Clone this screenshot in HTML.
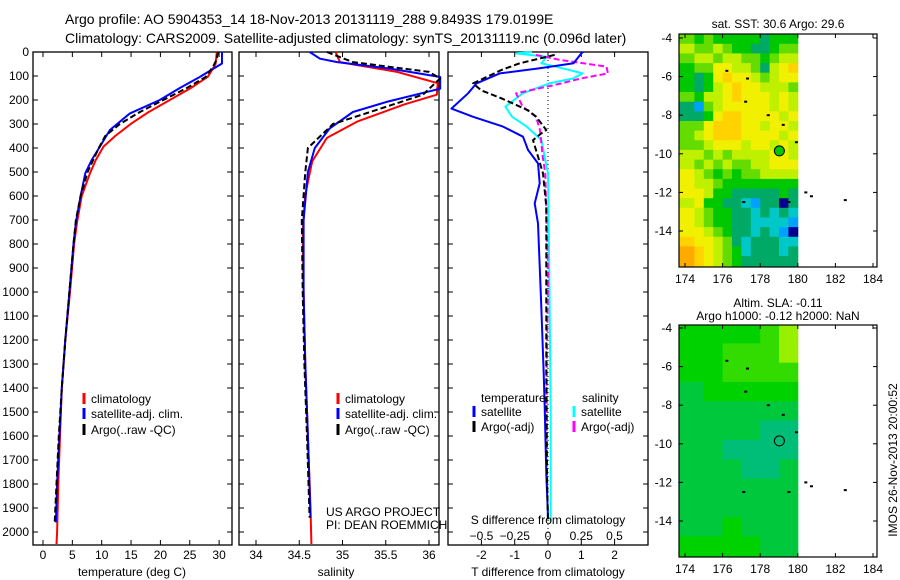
<!DOCTYPE html>
<html><head><meta charset="utf-8">
<style>
body{margin:0;background:#fff;}
svg{display:block;font-family:"Liberation Sans",sans-serif;}
text{fill:#000;}
</style></head>
<body>
<svg id="fig" width="900" height="580" viewBox="0 0 900 580">
<text x="65" y="24" font-size="14">Argo profile: AO 5904353_14 18-Nov-2013 20131119_288 9.8493S 179.0199E</text>
<text x="65" y="43" font-size="14">Climatology: CARS2009. Satellite-adjusted climatology: synTS_20131119.nc (0.096d later)</text>
<g id="g"></g>
</svg>
<script>
// ---- data ----
const depthTicks=[0,100,200,300,400,500,600,700,800,900,1000,1100,1200,1300,1400,1500,1600,1700,1800,1900,2000];
const tempTicks=[0,5,10,15,20,25,30];
const salTicks=[34,34.5,35,35.5,36];
const tdiffTicks=[-2,-1,0,1,2];
const sdiffTicks=[-0.5,-0.25,0,0.25,0.5];
const tempClimDepth=[0,50,103,150,200,250,297,350,394,450,505,600,711,800,1000,1200,1400,1600,1800,2000,2050];
const tempClim=[29.6,29.4,28.1,25.2,21.6,18.0,15.1,12.3,10.3,9.0,8.0,6.6,5.8,5.3,4.6,3.8,3.2,2.9,2.6,2.4,2.3];
const tempSatDepth=[0,48,104,150,200,256,325,394,450,505,600,711,800,1000,1200,1400,1600,1800,1960];
const tempSat=[30.5,30.5,26.7,23.3,19.9,14.8,11.4,9.7,8.3,7.2,6.4,5.6,5.2,4.5,3.8,3.2,2.8,2.4,2.2];
const tempArgoDepth=[0,30,60,104,150,200,250,300,350,400,500,600,700,800,1000,1200,1400,1600,1800,1960];
const tempArgo=[29.8,29.6,29.0,27.7,24.5,20.5,16.5,13.1,10.6,9.5,7.6,6.4,5.6,5.2,4.5,3.8,3.2,2.7,2.3,2.0];
const salClimDepth=[0,42,83,130,178,220,290,358,456,594,750,1000,1300,1600,1900,2050];
const salClim=[34.92,34.97,35.63,36.1,36.09,35.7,35.17,34.82,34.65,34.57,34.54,34.55,34.57,34.6,34.63,34.64];
const salSatDepth=[0,28,42,69,104,153,208,250,319,400,500,700,1000,1300,1600,1940];
const salSat=[34.62,34.74,34.94,35.55,36.13,36.13,35.51,35.12,34.85,34.68,34.6,34.55,34.55,34.57,34.6,34.63];
const salArgoDepth=[0,42,83,110,178,250,300,400,500,700,1000,1300,1600,1940];
const salArgo=[34.82,35.12,36.0,36.13,35.93,35.32,34.89,34.6,34.57,34.53,34.54,34.56,34.59,34.62];
const dTSatDepth=[0,6,47,68,89,131,172,236,270,311,353,408,464,547,631,714,1061,1339,1478,1756,1936];
const dTSat=[1.05,1.0,0.77,-0.25,-1.45,-2.15,-2.4,-2.9,-2.25,-1.35,-0.75,-0.6,-0.3,-0.25,-0.4,-0.3,-0.2,-0.13,-0.1,-0.05,0];
const dTArgoDepth=[12,47,75,131,160,193,243,270,298,325,339,367,436,506,644,922,1339,1756,1960];
const dTArgo=[0.2,-0.85,-1.4,-2.25,-2.0,-1.4,-0.6,-0.35,-0.2,-0.05,-0.2,-0.45,-0.3,-0.15,-0.05,-0.05,-0.05,-0.03,0];
const dSSatDepth=[0,6,20,47,68,89,110,131,172,228,270,311,367,506,922,1500,1960];
const dSSat=[-0.12,-0.24,-0.01,-0.05,0.11,0.26,0.19,0.01,-0.19,-0.32,-0.27,-0.16,-0.05,0,0.01,0.02,0.02];
const dSArgoDepth=[12,33,61,89,110,131,151,172,228,270,325,436,506,922,1339,1800];
const dSArgo=[-0.09,0.09,0.44,0.45,0.25,0.1,-0.06,-0.24,-0.19,-0.09,-0.06,-0.04,-0.02,0,-0.01,-0.01];
const lonTicks=[174,176,178,180,182,184];
const latTicks=[-4,-6,-8,-10,-12,-14];
const sstGrid=[
"545444443444","655654433455","566566554566","455776653678","434787765677","434678776665",
"546678777676","315677777676","334788777767","557888776776","567888777767","556777677676",
"665656666776","656565566777","765454556666","766544444444","776443333343","674433213303",
"765443323232","765443322221","776543323210","877653233322","987654233323","987654333333"];
const slaGrid=["222234","223334","223333","122222","111111","111100","110000","111001","111111","111111","112111","222211"];
const argoLon=179.02, argoLat=-9.85;
// ---- drawing ----
const NS="http://www.w3.org/2000/svg";
const G=document.getElementById('g');
function mk(tag,attrs,parent){const e=document.createElementNS(NS,tag);for(const k in attrs)e.setAttribute(k,attrs[k]);(parent||G).appendChild(e);return e;}
function txt(x,y,s,size,anchor,parent){const t=mk('text',{x:x,y:y,'font-size':size||12,'text-anchor':anchor||'start'},parent);t.textContent=s;return t;}
const Y=d=>52+d*0.24;
const TOP=52,BOT=545;
function panel(name,x0,x1){
  const r=mk('rect',{x:x0,y:TOP,width:x1-x0,height:BOT-TOP,fill:'none',stroke:'#000','stroke-width':1.3});
  
  
}
function line(name,xs,ds,fx,color,dash,w){
  let p='';for(let i=0;i<xs.length;i++)p+=(i?'L':'M')+fx(xs[i]).toFixed(1)+','+Y(ds[i]).toFixed(1);
  const a={d:p,fill:'none',stroke:color,'stroke-width':w||2,'stroke-linejoin':'round'};
  if(dash)a['stroke-dasharray']=dash;
  const e=mk('path',a);
  
  
}
function xticks(fx,ticks,labelY,fmt,axisName){
  ticks.forEach(v=>{const x=fx(v);
    mk('line',{x1:x,x2:x,y1:BOT,y2:BOT-5,stroke:'#000'});mk('line',{x1:x,x2:x,y1:TOP,y2:TOP+5,stroke:'#000'});
    const t=txt(x,labelY,fmt?fmt(v):String(v),12,'middle');
    
    });
}
function yticks(x0,x1,labels){
  depthTicks.forEach(d=>{const y=Y(d);
    mk('line',{x1:x0,x2:x0+5,y1:y,y2:y,stroke:'#000'});mk('line',{x1:x1,x2:x1-5,y1:y,y2:y,stroke:'#000'});
    if(labels){const t=txt(29,y+4,String(d),12,'end');
      
      }});
}
function legendEntry(x,y,color,label,dash){
  const g=mk('g',{});
  
  
  mk('line',{x1:x,x2:x,y1:y-10,y2:y+1,stroke:color,'stroke-width':3},g);
  txt(x+7,y,label,12,'start',g);
}
// Panel 1 temperature
const fT=t=>43+t*5.87;
panel('temperature-panel',33,232);
yticks(33,232,true);
xticks(fT,tempTicks,559,null,'temperature-axis');
line('temp-climatology',tempClim,tempClimDepth,fT,'#f00');
line('temp-satellite-adj',tempSat,tempSatDepth,fT,'#00f');
line('temp-argo',tempArgo,tempArgoDepth,fT,'#000','6,3');
let t=txt(132,576,'temperature (deg C)',12,'middle');
legendEntry(84,403,'#f00','climatology');legendEntry(84,418,'#00f','satellite-adj. clim.');legendEntry(84,434,'#000','Argo(..raw -QC)');
// Panel 2 salinity
const fS=s=>256+(s-34)*86.5;
panel('salinity-panel',239,439);
yticks(239,439,false);
xticks(fS,salTicks,559,null,'salinity-axis');
line('sal-climatology',salClim,salClimDepth,fS,'#f00');
line('sal-satellite-adj',salSat,salSatDepth,fS,'#00f');
line('sal-argo',salArgo,salArgoDepth,fS,'#000','6,3');
t=txt(336,576,'salinity',12,'middle');
legendEntry(338,403,'#f00','climatology');legendEntry(338,418,'#00f','satellite-adj. clim.');legendEntry(338,434,'#000','Argo(..raw -QC)');
t=txt(326,516,'US ARGO PROJECT',12);
t=txt(326,529,'PI: DEAN ROEMMICH',12);
// Panel 3 differences
const fdT=v=>548+v*33.3, fdS=v=>548+v*133;
panel('difference-panel',448,648);
yticks(448,648,false);
xticks(fdT,tdiffTicks,559,null,'tdiff-axis');
mk('line',{x1:548,x2:548,y1:TOP,y2:BOT,stroke:'#000','stroke-dasharray':'1,3'});
line('dS-satellite',dSSat,dSSatDepth,fdS,'#0ff');
line('dS-argo',dSArgo,dSArgoDepth,fdS,'#f0f','6,3');
line('dT-satellite',dTSat,dTSatDepth,fdT,'#00f');
line('dT-argo',dTArgo,dTArgoDepth,fdT,'#000','6,3');
sdiffTicks.forEach(v=>{const tt=txt(fdS(v),540,String(v).replace('-','\u2212'),12,'middle');});
t=txt(548,524,'S difference from climatology',12,'middle');
t=txt(548,576,'T difference from climatology',12,'middle');
t=txt(481,402,'temperature',12);
t=txt(582,402,'salinity',12);
legendEntry(474,416,'#00f','satellite');legendEntry(474,431,'#000','Argo(-adj)');
legendEntry(574,416,'#0ff','satellite');legendEntry(574,431,'#f0f','Argo(-adj)');
// Maps
const sstCols=['#000090','#00a0ff','#00c8c8','#00aa66','#00c800','#64dc00','#bef000','#f0f000','#ffd200','#ffaa00'];
const slaCols=['#00be78','#00c83c','#00d200','#32dc00','#96f000'];
function map(name,top,bot,latTop,grid,cols,step,title1,title2,xlabY){
  const fx=l=>685+(l-174)*18.8;
  const fy=la=>latTop+(-4-la)*19.3;
  const g=mk('g',{});
  
  
  const cp=mk('clipPath',{id:name+'-clip'},g);mk('rect',{x:679,y:top,width:198,height:bot-top},cp);
  const cells=mk('g',{'clip-path':'url(#'+name+'-clip)'},g);
  grid.forEach((row,ri)=>{for(let ci=0;ci<row.length;ci++){
    const x0=ci==0?679:fx(174+ci*step), x1=fx(174+(ci+1)*step);
    const y0=ri==0?top:fy(-4-ri*step+0.2), y1=ri==grid.length-1?bot:fy(-4-(ri+1)*step+0.2);
    const c=mk('rect',{x:x0.toFixed(1),y:y0.toFixed(1),width:(x1-x0+0.5).toFixed(1),height:(y1-y0+0.5).toFixed(1),fill:cols[+row[ci]]},cells);
    
    
  }});
  mk('rect',{x:679,y:top,width:198,height:bot-top,fill:'none',stroke:'#000','stroke-width':1.2},g);
  lonTicks.forEach(l=>{const x=fx(l);mk('line',{x1:x,x2:x,y1:bot,y2:bot-4,stroke:'#000'},g);mk('line',{x1:x,x2:x,y1:top,y2:top+4,stroke:'#000'},g);
    const tt=txt(x,xlabY,String(l),12,'middle',g);});
  latTicks.forEach(la=>{const y=fy(la);mk('line',{x1:679,x2:683,y1:y,y2:y,stroke:'#000'},g);mk('line',{x1:877,x2:873,y1:y,y2:y,stroke:'#000'},g);
    const tt=txt(672,y+4,String(la),12,'end',g);});
  const m=mk('circle',{cx:fx(argoLon),cy:fy(argoLat),r:5,fill:name=='sst-map'?'#00c800':'none',stroke:'#000','stroke-width':1},g);
  
  
  [[176.2,-5.7],[177.3,-6.1],[177.2,-7.3],[178.4,-8.0],[179.2,-8.5],[179.9,-9.4],[177.1,-12.5],[179.5,-12.5],[180.4,-12.0],[180.7,-12.2],[182.5,-12.4]].forEach(p=>{
    mk('rect',{x:fx(p[0])-1,y:fy(p[1])-1,width:3,height:2,fill:'#000'},g);});
  if(title1){const tt=txt(778,title2?top-18:top-6,title1,12,'middle',g);}
  if(title2){const tt=txt(778,top-5,title2,12,'middle',g);}
}
map('sst-map',34,267,38,sstGrid,sstCols,0.5,'sat. SST: 30.6 Argo: 29.6',null,283);
map('sla-map',325,557,328,slaGrid,slaCols,1,'Altim. SLA: -0.11','Argo h1000: -0.12 h2000: NaN',573);
t=txt(0,0,'IMOS 26-Nov-2013 20:00:52',12,'middle');
t.setAttribute('transform','translate(897,460) rotate(-90)');


</script>
</body></html>
